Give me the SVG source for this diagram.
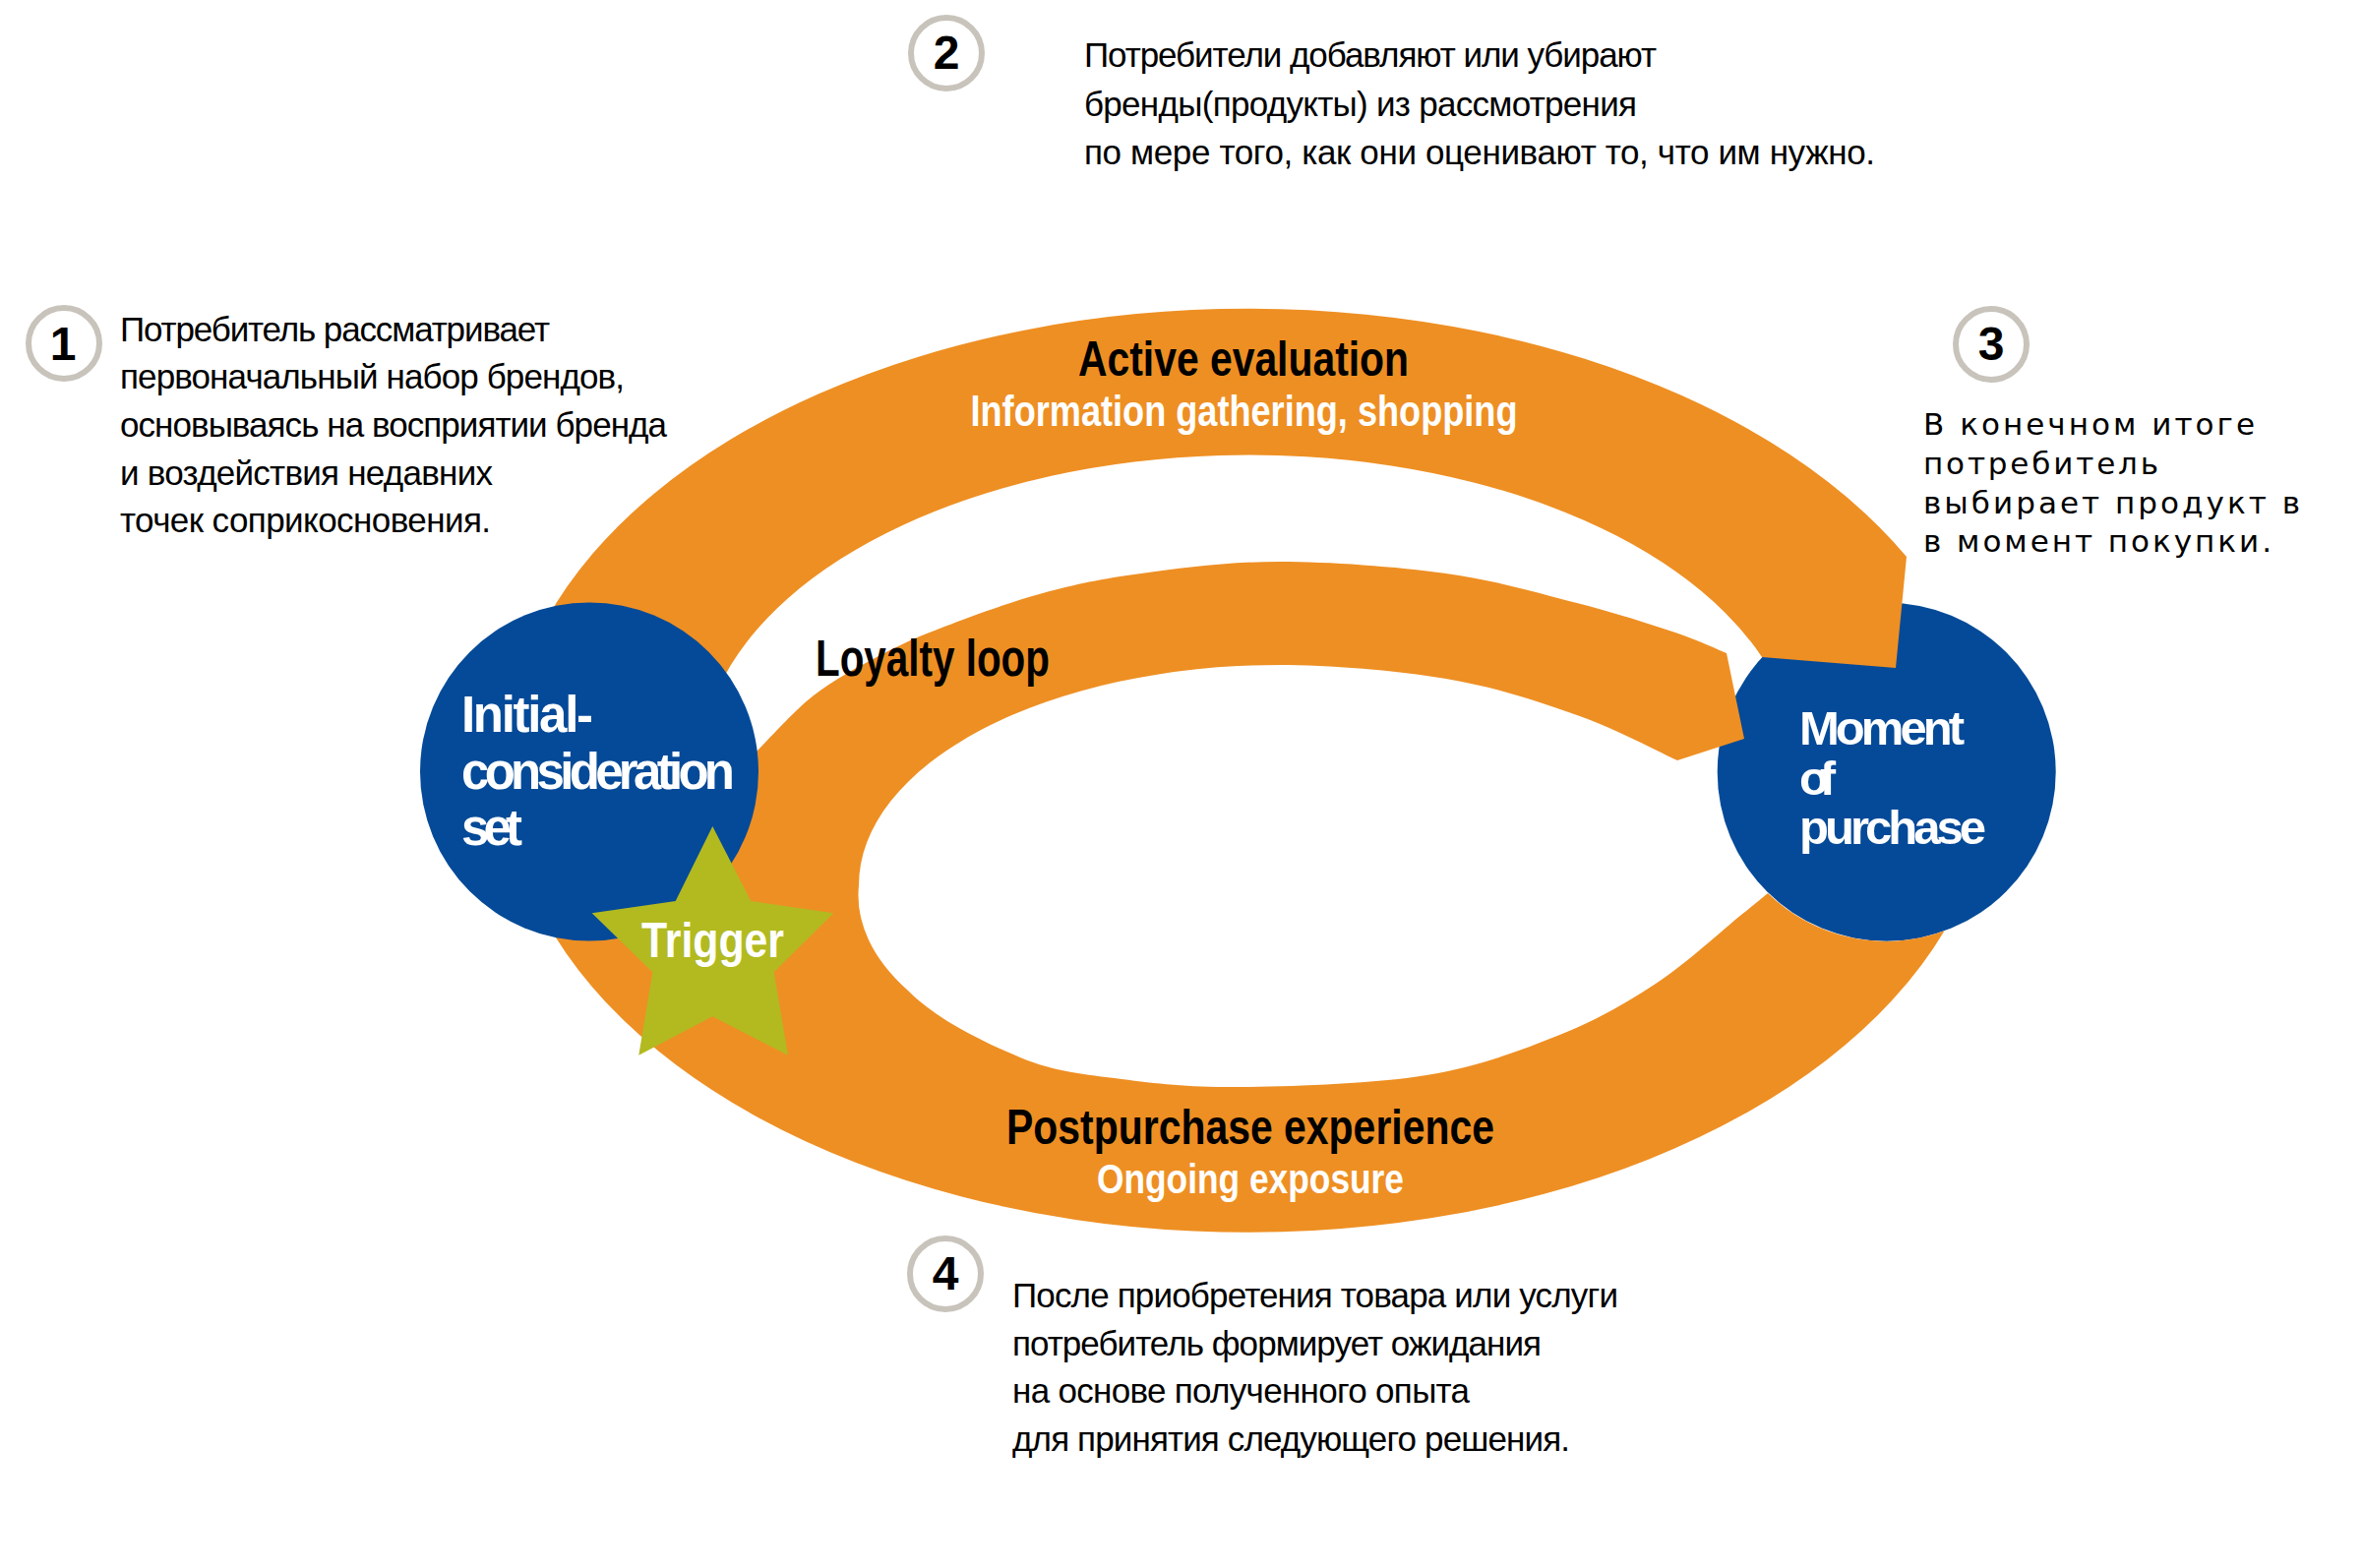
<svg xmlns="http://www.w3.org/2000/svg" width="2403" height="1594" viewBox="0 0 2403 1594">
<style>
.ring{fill:#EE8F23}
.node{fill:#044A98}
.star{fill:#B2BA20}
.num{fill:#fff;stroke:#C8C3BB;stroke-width:6}
.lbl{font-family:'Liberation Sans Narrow','Liberation Sans',Arial,sans-serif;font-weight:bold}
.w{fill:#fff}
.k{fill:#000}
.mid{text-anchor:middle}
.digit{font-family:'Liberation Sans Narrow','Liberation Sans',Arial,sans-serif;font-weight:bold;font-size:48px;text-anchor:middle;fill:#000}
.ru{font-family:'Liberation Sans Narrow','Liberation Sans',Arial,sans-serif;font-size:35px;fill:#000}
.ru3{font-family:'DejaVu Sans',Verdana,sans-serif;font-size:31px;fill:#000}
</style>
<rect width="2403" height="1594" fill="#fff"/>

<g id="node-moment-of-purchase">
  <circle class="node" cx="1917.7" cy="784.7" r="172"/>
  <text class="lbl w" font-size="49" lengthAdjust="spacingAndGlyphs">
    <tspan x="1829" y="757" textLength="168">Moment</tspan>
    <tspan x="1829" y="808" textLength="37">of</tspan>
    <tspan x="1829" y="858" textLength="190">purchase</tspan>
  </text>
</g>

<g id="connectors">
  <path id="loyalty-and-postpurchase" class="ring" d="M 1755 664 C 1746.3 660.5 1728.3 651.5 1703 643 C 1677.7 634.5 1641.8 623 1603 613 C 1564.2 603 1520.5 590 1470 583 C 1419.5 576 1351.7 571 1300 571 C 1248.3 571 1200 577.7 1160 583 C 1120 588.3 1093.3 594 1060 603 C 1026.7 612 987.8 626.3 960 637 C 932.2 647.7 915.2 655.3 893 667 C 870.8 678.7 847.5 691 827 707 C 806.5 723 779.5 753.7 770 763 L 560 870 L 530 880 A 755 470 0 0 0 1976.5 946.3 A 172 172 0 0 1 1797 908 C 1792.5 911.7 1789 914.7 1770 930 C 1751 945.3 1714.2 979.5 1683 1000 C 1651.8 1020.5 1621.8 1037.5 1583 1053 C 1544.2 1068.5 1503 1084.3 1450 1093 C 1397 1101.7 1316.7 1104.3 1265 1105 C 1213.3 1105.7 1178 1102 1140 1097 C 1102 1092 1073.2 1090 1037 1075 C 1000.8 1060 950.2 1035.3 923 1007 A 427 205 0 0 1 873 900 A 427 224 0 0 1 1300 676 C 1351.7 676 1419.5 681.5 1470 690 C 1520.5 698.5 1563.8 713.2 1603 727 C 1642.2 740.8 1688 765.3 1705 773 L 1773 751 Z"/>
  <path id="active-evaluation" class="ring" d="M 526 700 A 755 470 0 0 1 1938 566 L 1927 679 L 1791 668 A 558 319 0 0 0 730 700 Z"/>
</g>

<g id="node-initial-consideration-set">
  <circle class="node" cx="599" cy="784.5" r="172"/>
  <text class="lbl w" font-size="51" lengthAdjust="spacingAndGlyphs">
    <tspan x="469" y="744" textLength="134">Initial-</tspan>
    <tspan x="469" y="802" textLength="278">consideration</tspan>
    <tspan x="469" y="859" textLength="62">set</tspan>
  </text>
</g>

<g id="node-trigger">
  <polygon class="star" points="724.3,840 763.3,916 847.3,928.3 786.7,988.3 801,1072.7 724.3,1033.3 649.3,1072.7 663.3,988.3 601.7,928.3 686.7,916"/>
  <text class="lbl w" x="652" y="973" font-size="50" textLength="145" lengthAdjust="spacingAndGlyphs">Trigger</text>
</g>

<g id="loop-labels">
  <text class="lbl k mid" x="1264" y="382" font-size="50" textLength="336" lengthAdjust="spacingAndGlyphs">Active evaluation</text>
  <text class="lbl w mid" x="1264.5" y="433" font-size="44" textLength="556" lengthAdjust="spacingAndGlyphs">Information gathering, shopping</text>
  <text class="lbl k" x="829" y="687" font-size="51" textLength="238" lengthAdjust="spacingAndGlyphs">Loyalty loop</text>
  <text class="lbl k mid" x="1271" y="1163" font-size="50" textLength="496" lengthAdjust="spacingAndGlyphs">Postpurchase experience</text>
  <text class="lbl w mid" x="1271" y="1213" font-size="43" textLength="312" lengthAdjust="spacingAndGlyphs">Ongoing exposure</text>
</g>

<g id="note-1">
  <circle class="num" cx="65" cy="349" r="36"/>
  <text class="digit" x="64" y="366">1</text>
  <text class="ru" lengthAdjust="spacingAndGlyphs">
    <tspan x="122" y="347" textLength="437">Потребитель рассматривает</tspan>
    <tspan x="122" y="395" textLength="513">первоначальный набор брендов,</tspan>
    <tspan x="122" y="444" textLength="556">основываясь на восприятии бренда</tspan>
    <tspan x="122" y="493" textLength="379">и воздействия недавних</tspan>
    <tspan x="122" y="541" textLength="377">точек соприкосновения.</tspan>
  </text>
</g>

<g id="note-2">
  <circle class="num" cx="962" cy="54" r="36"/>
  <text class="digit" x="962" y="70">2</text>
  <text class="ru" lengthAdjust="spacingAndGlyphs">
    <tspan x="1102" y="68" textLength="582">Потребители добавляют или убирают</tspan>
    <tspan x="1102" y="118" textLength="562">бренды(продукты) из рассмотрения</tspan>
    <tspan x="1102" y="167" textLength="804">по мере того, как они оценивают то, что им нужно.</tspan>
  </text>
</g>

<g id="note-3">
  <circle class="num" cx="2024" cy="350" r="36"/>
  <text class="digit" x="2024" y="366">3</text>
  <text class="ru3" lengthAdjust="spacingAndGlyphs">
    <tspan x="1955" y="442" textLength="337">В конечном итоге</tspan>
    <tspan x="1955" y="482" textLength="239">потребитель</tspan>
    <tspan x="1955" y="522" textLength="383">выбирает продукт в</tspan>
    <tspan x="1955" y="561" textLength="354">в момент покупки.</tspan>
  </text>
</g>

<g id="note-4">
  <circle class="num" cx="961" cy="1295" r="36"/>
  <text class="digit" x="961" y="1311">4</text>
  <text class="ru" lengthAdjust="spacingAndGlyphs">
    <tspan x="1029" y="1329" textLength="616">После приобретения товара или услуги</tspan>
    <tspan x="1029" y="1378" textLength="538">потребитель формирует ожидания</tspan>
    <tspan x="1029" y="1426" textLength="465">на основе полученного опыта</tspan>
    <tspan x="1029" y="1475" textLength="567">для принятия следующего решения.</tspan>
  </text>
</g>
</svg>
